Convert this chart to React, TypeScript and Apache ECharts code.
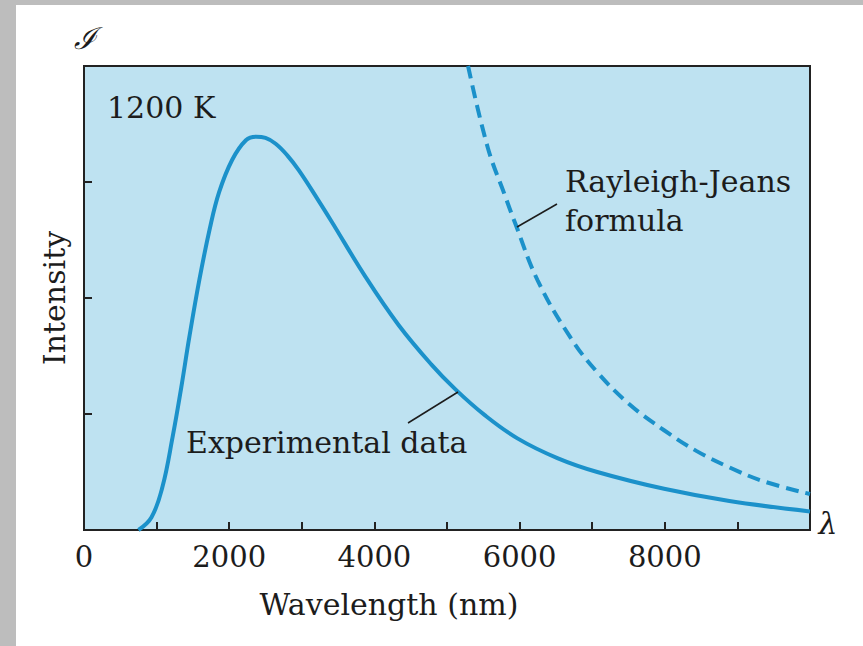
import React, { useEffect, useRef } from 'react';
import * as echarts from 'echarts';

const expWavelength = [750, 930, 1080, 1220, 1340, 1450, 1590, 1730, 1860, 2040, 2230, 2370, 2500, 2640, 2800, 2960, 3230, 3410, 3880, 4330, 4780, 5120, 5520, 5970, 6520, 7070, 7990, 8890, 10000];
const expIntensity = [0, 0.11, 0.37, 0.8, 1.23, 1.66, 2.16, 2.59, 2.91, 3.19, 3.36, 3.39, 3.38, 3.33, 3.23, 3.1, 2.84, 2.66, 2.18, 1.77, 1.43, 1.21, 0.99, 0.79, 0.62, 0.5, 0.355, 0.25, 0.16];

// Rayleigh-Jeans formula curve
const rjWavelength = [5290, 5560, 5800, 5930, 6250, 6700, 7070, 7520, 7990, 8440, 8890, 9360, 10000];
const rjIntensity = [4.0, 3.3, 2.88, 2.66, 2.15, 1.66, 1.36, 1.08, 0.86, 0.68, 0.54, 0.42, 0.31];

const xTickLabels = ['0', '2000', '4000', '6000', '8000'];

const FONT = '"DejaVu Serif", "Liberation Serif", serif';
const INK = '#1c1c1c';
const LINE = '#1b91ca';

export default function App() {
  const ref = useRef<HTMLDivElement>(null);
  useEffect(() => {
    document.body.style.margin = '0';
    const chart = echarts.init(ref.current!, null, { renderer: 'svg' });
    const expData = expWavelength.map((x, i) => [x, expIntensity[i]]);
    const rjData = rjWavelength.map((x, i) => [x, rjIntensity[i]]);
    const txt = (text: string, x: number, y: number, extra: any = {}) => ({
      type: 'text',
      x,
      y,
      z: 10,
      style: {
        text,
        fill: INK,
        font: `normal 30px ${FONT}`,
        textAlign: 'left',
        textVerticalAlign: 'middle',
        ...extra,
      },
    });
    chart.setOption({
      animation: false,
      backgroundColor: 'transparent',
      grid: {
        left: 68,
        top: 61,
        right: 53,
        bottom: 116,
        show: true,
        backgroundColor: '#bee2f1',
        borderColor: '#222',
        borderWidth: 2,
      },
      xAxis: {
        type: 'value',
        min: 0,
        max: 10000,
        interval: 1000,
        axisLine: { show: true, lineStyle: { color: '#222', width: 2 } },
        axisTick: { show: true, inside: true, length: 8, lineStyle: { color: '#222', width: 2 } },
        axisLabel: {
          margin: 12,
          fontFamily: FONT,
          fontSize: 29,
          color: INK,
          formatter: (v: number) => (xTickLabels.includes(String(v)) ? String(v) : ''),
        },
        splitLine: { show: false },
      },
      yAxis: {
        type: 'value',
        min: 0,
        max: 4,
        interval: 1,
        name: 'Intensity',
        nameLocation: 'middle',
        nameGap: 30,
        nameTextStyle: { fontFamily: FONT, fontSize: 30, color: INK, verticalAlign: 'middle', padding: [0, 0, 8, 0] },
        axisLine: { show: true, lineStyle: { color: '#222', width: 2 } },
        axisTick: { show: true, inside: true, length: 8, lineStyle: { color: '#222', width: 2 } },
        axisLabel: { show: false },
        splitLine: { show: false },
      },
      series: [
        {
          type: 'line',
          name: 'Experimental data',
          data: expData,
          smooth: 0.4,
          showSymbol: false,
          lineStyle: { color: LINE, width: 4 },
          z: 3,
        },
        {
          type: 'line',
          name: 'Rayleigh-Jeans formula',
          data: rjData,
          smooth: 0.4,
          showSymbol: false,
          lineStyle: { color: LINE, width: 4, type: [13, 7] },
          z: 3,
        },
      ],
      graphic: [
        txt('1200 K', 91, 102),
        txt('Rayleigh-Jeans', 549, 176),
        txt('formula', 549, 215),
        txt('Experimental data', 170, 437),
        txt('Wavelength (nm)', 373, 599, { textAlign: 'center' }),
        txt('ℐ', 69, 33, { textAlign: 'center', font: `italic 30px ${FONT}` }),
        txt('λ', 812, 518, { textAlign: 'center', font: `italic 30px ${FONT}` }),
        {
          type: 'line',
          z: 10,
          shape: { x1: 442, y1: 387, x2: 392, y2: 418 },
          style: { stroke: INK, lineWidth: 1.5 },
        },
        {
          type: 'line',
          z: 10,
          shape: { x1: 501, y1: 222, x2: 541, y2: 199 },
          style: { stroke: INK, lineWidth: 1.5 },
        },
      ],
    });
    return () => chart.dispose();
  }, []);
  return (
    <div style={{ position: 'fixed', left: 0, top: 0, width: 863, height: 646, background: '#bdbdbd' }}>
      <div
        ref={ref}
        style={{ position: 'absolute', left: 16, top: 5, width: 847, height: 641, background: '#ffffff' }}
      />
    </div>
  );
}
